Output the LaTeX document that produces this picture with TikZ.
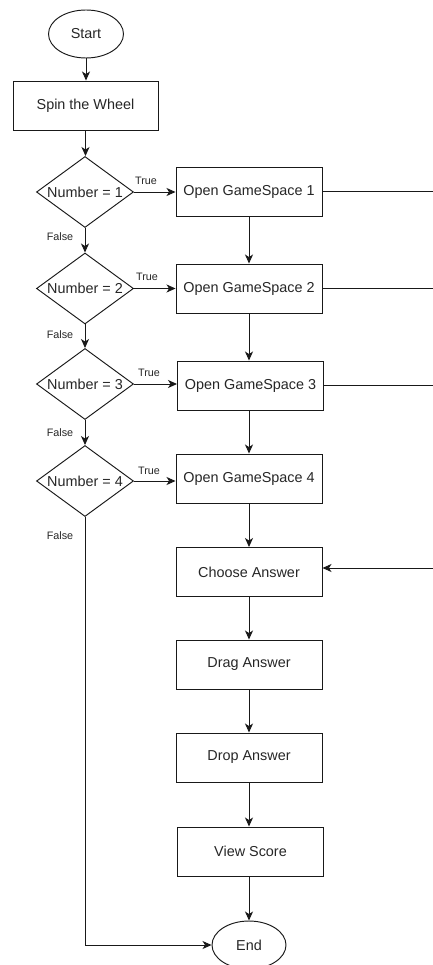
\documentclass[tikz,border=0pt]{standalone}
\usepackage{fontspec}
\setmainfont{Liberation Sans}
\usetikzlibrary{shapes.geometric,arrows.meta}
\tikzset{
  base/.style={draw=black!90, line width=0.95pt, inner sep=0pt, font=\fontsize{14.4}{16}\selectfont, text=black!85},
  box/.style={base, rectangle, minimum width=146pt, minimum height=49pt},
  term/.style={base, ellipse, minimum width=75pt, minimum height=48pt},
  dec/.style={base, diamond, aspect=1.37, minimum width=97pt, minimum height=71pt},
  conn/.style={draw=black!90, line width=0.95pt, -{Stealth[length=9pt,width=8pt,inset=2.5pt]}},
  plain/.style={draw=black!90, line width=0.95pt},
  lbl/.style={font=\fontsize{10.8}{12}\selectfont, text=black!85, inner sep=0pt}
}
\begin{document}
\begin{tikzpicture}[x=1pt,y=-1pt]
\useasboundingbox (0,0) rectangle (433,965);
\begin{scope}
\clip (0,0) rectangle (433,965);
\node[term] (start) at (86,34) {Start};
\node[box, minimum width=145pt] (spin) at (85.5,105.5) {Spin the Wheel};
\node[dec] (d1) at (85,192) {\makebox[0pt]{Number = 1}};
\node[dec] (d2) at (85,288.5) {\makebox[0pt]{Number = 2}};
\node[dec] (d3) at (85,384) {\makebox[0pt]{Number = 3}};
\node[dec] (d4) at (85,481) {\makebox[0pt]{Number = 4}};
\node[box] (g1) at (249,191.5) {Open GameSpace 1};
\node[box] (g2) at (249,288.5) {Open GameSpace 2};
\node[box] (g3) at (250.5,385.5) {Open GameSpace 3};
\node[box] (g4) at (249,478.5) {Open GameSpace 4};
\node[box] (ch) at (249,572) {Choose Answer};
\node[box] (dr) at (249,664.5) {Drag Answer};
\node[box] (dp) at (249,757.5) {Drop Answer};
\node[box] (vs) at (250.5,851.5) {View Score};
\node[term, minimum width=74pt] (end) at (249,945) {End};

\coordinate (r1) at (433,191.5);
\coordinate (r2) at (433,288.5);
\coordinate (r3) at (433,385.5);
\coordinate (rc) at (433,568);

\draw[conn] (start) -- (start.south |- spin.north);
\draw[conn] (spin) -- (spin.south |- d1.north);
\draw[conn] (d1) -- (d2);
\draw[conn] (d2) -- (d3);
\draw[conn] (d3) -- (d4);
\draw[conn] (d1.east) -- (d1.east -| g1.west);
\draw[conn] (d2.east) -- (d2.east -| g2.west);
\draw[conn] (d3.east) -- (d3.east -| g3.west);
\draw[conn] (d4.east) -- (d4.east -| g4.west);
\draw[conn] (g1) -- (g1.south |- g2.north);
\draw[conn] (g2.south) -- (g2.south |- g3.north);
\draw[conn] (g3.south -| g2.south) -- (g2.south |- g4.north);
\draw[conn] (g4) -- (ch);
\draw[conn] (ch) -- (dr);
\draw[conn] (dr) -- (dp);
\draw[conn] (dp.south) -- (dp.south |- vs.north);
\draw[conn] (vs.south -| end.north) -- (end.north);
\draw[conn] (d4.south) |- (end.west);
\draw[plain] (g1.east) -- (r1);
\draw[plain] (g2.east) -- (r2);
\draw[plain] (g3.east) -- (r3);
\draw[conn] (rc) -- (rc -| ch.east);

\node[lbl] (t1) at (146,181) {True};
\node[lbl] (t2) at (147,277) {True};
\node[lbl] (t3) at (149,373) {True};
\node[lbl] (t4) at (149,471) {True};
\node[lbl] (f1) at (60,237) {False};
\node[lbl] (f2) at (60,335) {False};
\node[lbl] (f3) at (60,433) {False};
\node[lbl] (f4) at (60,536) {False};
\end{scope}
\end{tikzpicture}
\end{document}
